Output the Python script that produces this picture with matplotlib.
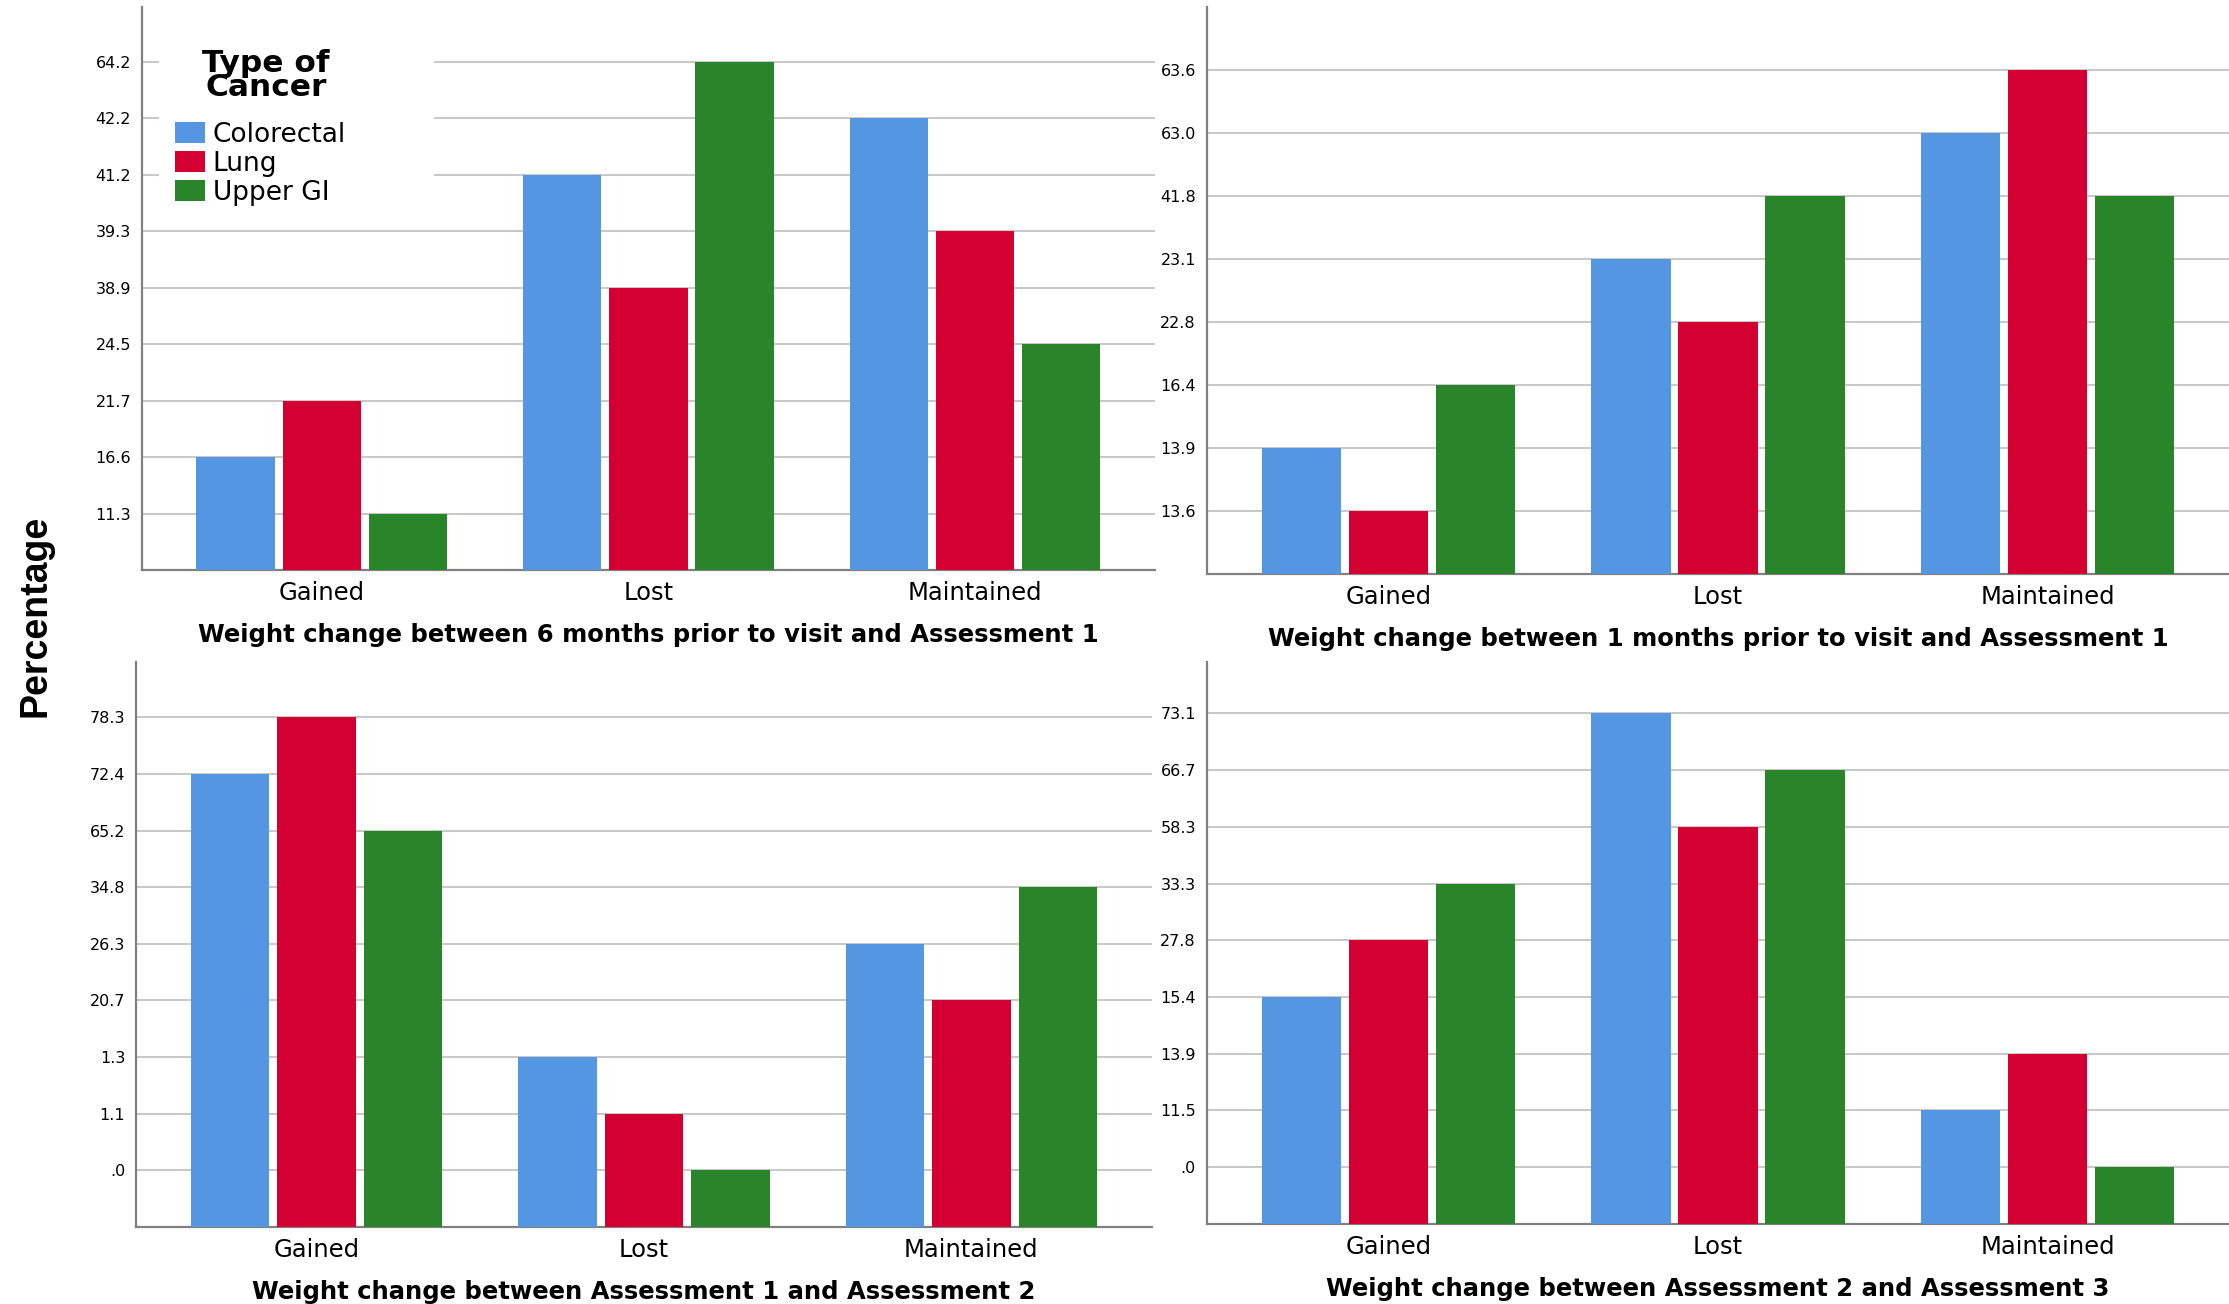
import numpy as np
import matplotlib.pyplot as plt
from matplotlib.patches import Patch, Rectangle

plt.rcParams['font.family'] = ['DejaVu Sans']

groups = ['Gained', 'Lost', 'Maintained']
cancer_types = ['Colorectal', 'Lung', 'Upper GI']
colors = ['#5596E3', '#D50032', '#2A852A']

# panel 1 (top left)
p1_title = 'Weight change between 6 months prior to visit and Assessment 1'
p1_levels = ['11.3', '16.6', '21.7', '24.5', '38.9', '39.3', '41.2', '42.2', '64.2']
p1_colorectal = [16.6, 41.2, 42.2]
p1_lung = [21.7, 38.9, 39.3]
p1_upper_gi = [11.3, 64.2, 24.5]

# panel 2 (top right)
p2_title = 'Weight change between 1 months prior to visit and Assessment 1'
p2_levels = ['13.6', '13.9', '16.4', '22.8', '23.1', '41.8', '63.0', '63.6']
p2_colorectal = [13.9, 23.1, 63.0]
p2_lung = [13.6, 22.8, 63.6]
p2_upper_gi = [16.4, 41.8, 41.8]

# panel 3 (bottom left)
p3_title = 'Weight change between Assessment 1 and Assessment 2'
p3_levels = ['.0', '1.1', '1.3', '20.7', '26.3', '34.8', '65.2', '72.4', '78.3']
p3_colorectal = [72.4, 1.3, 26.3]
p3_lung = [78.3, 1.1, 20.7]
p3_upper_gi = [65.2, 0.0, 34.8]

# panel 4 (bottom right)
p4_title = 'Weight change between Assessment 2 and Assessment 3'
p4_levels = ['.0', '11.5', '13.9', '15.4', '27.8', '33.3', '58.3', '66.7', '73.1']
p4_colorectal = [15.4, 73.1, 11.5]
p4_lung = [27.8, 58.3, 13.9]
p4_upper_gi = [33.3, 66.7, 0.0]


def fmt(v):
    s = f'{v:.1f}'
    if s.startswith('0.'):
        s = s[1:]
    return s


def draw_panel(ax, title, levels, series, top):
    x = np.arange(len(groups))
    step = 0.264
    for i, (vals, col, name) in enumerate(zip(series, colors, cancer_types)):
        # the y axis is ordinal: each bar reaches the gridline carrying its value
        heights = [levels.index(fmt(v)) + 1 for v in vals]
        ax.bar(x + (i - 1) * step, heights, width=0.24, color=col, label=name, zorder=3)
    ax.set_yticks(np.arange(1, len(levels) + 1))
    ax.set_yticklabels(levels, fontsize=11.5)
    ax.set_ylim(0, top)
    ax.set_xlim(-0.55, 2.55)
    ax.set_xticks(x)
    ax.set_xticklabels(groups, fontsize=17.5)
    ax.yaxis.grid(True, color='#c8c8c8', lw=1.4, zorder=0)
    ax.tick_params(axis='both', length=0)
    ax.tick_params(axis='y', pad=8)
    ax.tick_params(axis='x', pad=8)
    for side in ['top', 'right']:
        ax.spines[side].set_visible(False)
    for side in ['left', 'bottom']:
        ax.spines[side].set_color('#808080')
        ax.spines[side].set_linewidth(1.6)
    ax.set_xlabel(title, fontsize=17.5, fontweight='bold', labelpad=13)


fig = plt.figure(figsize=(22.29, 13.04), dpi=100)
ax1 = fig.add_axes([0.0638, 0.5628, 0.4542, 0.4317])
ax2 = fig.add_axes([0.5415, 0.5596, 0.4585, 0.4349])
ax3 = fig.add_axes([0.0612, 0.0592, 0.4554, 0.4328])
ax4 = fig.add_axes([0.5415, 0.0614, 0.4585, 0.4306])

draw_panel(ax1, p1_title, p1_levels, [p1_colorectal, p1_lung, p1_upper_gi], 9.97)
draw_panel(ax2, p2_title, p2_levels, [p2_colorectal, p2_lung, p2_upper_gi], 8.99)
draw_panel(ax3, p3_title, p3_levels, [p3_colorectal, p3_lung, p3_upper_gi], 9.97)
draw_panel(ax4, p4_title, p4_levels, [p4_colorectal, p4_lung, p4_upper_gi], 9.9)

# legend: white box over the gridlines, bold title, then the entries
ax1.add_patch(Rectangle((0.017, 0.64), 0.271, 0.31, transform=ax1.transAxes,
                        facecolor='white', edgecolor='none', zorder=4))
ax1.text(0.122, 0.879, 'Type of\nCancer', transform=ax1.transAxes, fontsize=22.5,
         fontweight='bold', ha='center', va='center', linespacing=0.8, zorder=6)
handles = [Patch(facecolor=c, label=n) for c, n in zip(colors, cancer_types)]
leg = ax1.legend(handles=handles, loc='center left', bbox_to_anchor=(0.032, 0.722),
                 fontsize=19, frameon=False, borderpad=0, borderaxespad=0,
                 handlelength=1.15, handleheight=0.85, handletextpad=0.3,
                 labelspacing=0.12)
leg.set_zorder(6)

fig.text(0.016, 0.528, 'Percentage', rotation=90, fontsize=27, fontweight='bold',
         family='Liberation Sans', ha='center', va='center')

fig.savefig('out.png', dpi=100)
